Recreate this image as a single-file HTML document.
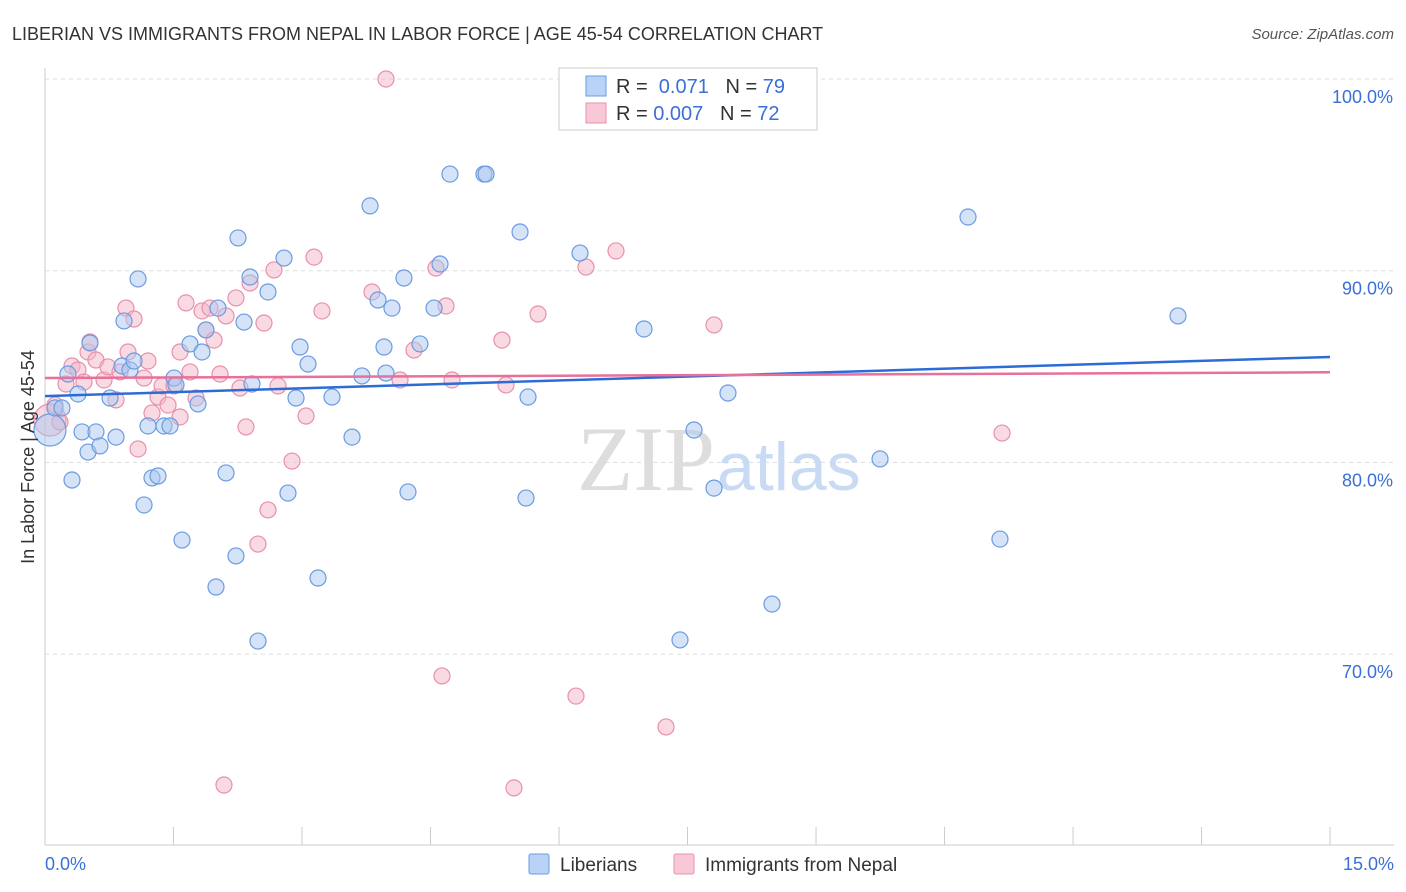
<!DOCTYPE html>
<html><head><meta charset="utf-8"><style>
body{margin:0;background:#fff;font-family:"Liberation Sans",sans-serif;}
svg{display:block}
</style></head><body>
<svg id="chart" width="1406" height="892">
<text x="12" y="40" font-size="18" fill="#333">LIBERIAN VS IMMIGRANTS FROM NEPAL IN LABOR FORCE | AGE 45-54 CORRELATION CHART</text>
<text x="1394" y="39" font-size="15" fill="#555" text-anchor="end" font-style="italic">Source: ZipAtlas.com</text>
<g id="grid"></g>
<text x="715" y="490" font-size="92" fill="#ddd" text-anchor="end" font-family="Liberation Serif,serif">ZIP</text>
<text x="717" y="490" font-size="68" fill="#c8daf4">atlas</text>
<g id="pts"></g>
<g id="trend"></g>
<text transform="translate(34,457) rotate(-90)" font-size="18" fill="#333" text-anchor="middle">In Labor Force | Age 45-54</text>
<text x="45" y="870" font-size="18" fill="#3a6fd8">0.0%</text>
<text x="1394" y="870" font-size="18" fill="#3a6fd8" text-anchor="end">15.0%</text>
<g>
<rect x="559" y="68" width="258" height="62" fill="#fff" stroke="#ccc"/>
<rect x="586" y="76" width="20" height="20" fill="#b8d3f5" stroke="#6b9be0"/>
<rect x="586" y="103" width="20" height="20" fill="#f8c8d6" stroke="#e890aa"/>
<text x="616" y="93" font-size="20" fill="#333">R = <tspan fill="#3a6fd8">&#160;0.071</tspan>&#160;&#160;&#160;N = <tspan fill="#3a6fd8">79</tspan></text>
<text x="616" y="120" font-size="20" fill="#333">R = <tspan fill="#3a6fd8">0.007</tspan>&#160;&#160;&#160;N = <tspan fill="#3a6fd8">72</tspan></text>
</g>
<g>
<rect x="529" y="854" width="20" height="20" fill="#b8d3f5" stroke="#6b9be0" rx="2"/>
<text x="560" y="871" font-size="19" fill="#333">Liberians</text>
<rect x="674" y="854" width="20" height="20" fill="#f8c8d6" stroke="#e890aa" rx="2"/>
<text x="705" y="871" font-size="19" fill="#333">Immigrants from Nepal</text>
</g>
</svg>
<script>
const yTicks=[100,90,80,70];
const xTickVals=[0,1.5,3,4.5,6,7.5,9,10.5,12,13.5,15];
const bluePx=[[50,430],[55,408],[62,408],[72,480],[68,374],[78,394],[82,432],[88,452],[90,343],[96,432],[100,446],[110,398],[116,437],[122,366],[124,321],[130,370],[134,361],[138,279],[144,505],[148,426],[152,478],[158,476],[164,426],[170,426],[174,378],[176,385],[182,540],[190,344],[198,404],[202,352],[206,330],[216,587],[218,308],[226,473],[236,556],[238,238],[244,322],[250,277],[252,384],[258,641],[268,292],[284,258],[288,493],[296,398],[300,347],[308,364],[318,578],[332,397],[352,437],[362,376],[370,206],[378,300],[384,347],[386,373],[392,308],[404,278],[408,492],[420,344],[434,308],[440,264],[450,174],[484,174],[486,174],[520,232],[526,498],[528,397],[580,253],[644,329],[680,640],[694,430],[714,488],[728,393],[772,604],[880,459],[968,217],[1000,539],[1178,316]];
const pinkPx=[[50,420],[55,405],[60,422],[66,384],[72,366],[78,370],[84,382],[88,352],[90,342],[96,360],[104,380],[108,367],[116,400],[120,372],[126,308],[128,352],[134,319],[138,449],[144,378],[148,361],[152,413],[158,397],[162,386],[168,405],[174,386],[180,417],[180,352],[186,303],[190,372],[196,398],[202,311],[206,330],[210,308],[214,340],[220,374],[224,785],[226,316],[236,298],[240,388],[246,427],[250,283],[258,544],[264,323],[268,510],[274,270],[278,386],[292,461],[306,416],[314,257],[322,311],[372,292],[386,79],[400,380],[414,350],[436,268],[442,676],[446,306],[452,380],[502,340],[506,385],[514,788],[538,314],[576,696],[586,267],[616,251],[666,727],[714,325],[1002,433]];
const blueX=bluePx.map(p=>+((p[0]-45)/85.67).toFixed(3));
const blueY=bluePx.map(p=>+(100-(p[1]-79)/19.17).toFixed(2));
const pinkX=pinkPx.map(p=>+((p[0]-45)/85.67).toFixed(3));
const pinkY=pinkPx.map(p=>+(100-(p[1]-79)/19.17).toFixed(2));
const blueTrend=[83.46,85.5];
const pinkTrend=[84.4,84.7];
const X=v=>45+v*85.67, Y=v=>79+(100-v)*19.17;
const ns="http://www.w3.org/2000/svg";
function mk(t,a,p){const e=document.createElementNS(ns,t);for(const k in a)e.setAttribute(k,a[k]);p.appendChild(e);return e;}
const g=document.getElementById('grid');
mk('line',{x1:45,y1:68,x2:45,y2:845,stroke:'#ccc'},g);
mk('line',{x1:45,y1:845,x2:1394,y2:845,stroke:'#ccc'},g);
yTicks.forEach(t=>{const l=mk('line',{x1:45,x2:1394,y1:Y(t),y2:Y(t),stroke:'#ddd','stroke-dasharray':'4,4'},g);


const tx=mk('text',{x:1393,y:Y(t)+24,'font-size':18,fill:'#3a6fd8','text-anchor':'end'},g);tx.textContent=t.toFixed(1)+'%';

});
xTickVals.forEach(t=>{const l=mk('line',{x1:X(t),x2:X(t),y1:827,y2:845,stroke:'#ccc'},g);

});
const pg=document.getElementById('pts');
function dots(xs,ys,fill,stroke,name){xs.forEach((x,i)=>{const r=(i==0)?16:8;const c=mk('circle',{cx:X(x),cy:Y(ys[i]),r:r,fill:fill,'fill-opacity':0.5,stroke:stroke,'stroke-width':1.2},pg);

});}
dots(pinkX,pinkY,'#f4b6c8','#e890aa','nepal-point');
dots(blueX,blueY,'#aac8f0','#6b9be0','liberian-point');
const tg=document.getElementById('trend');
let l1=mk('line',{x1:X(0),x2:X(15),y1:Y(blueTrend[0]),y2:Y(blueTrend[1]),stroke:'#2d6cd6','stroke-width':2.5},tg);


let l2=mk('line',{x1:X(0),x2:X(15),y1:Y(pinkTrend[0]),y2:Y(pinkTrend[1]),stroke:'#e8709a','stroke-width':2.5},tg);


</script>
</body></html>
